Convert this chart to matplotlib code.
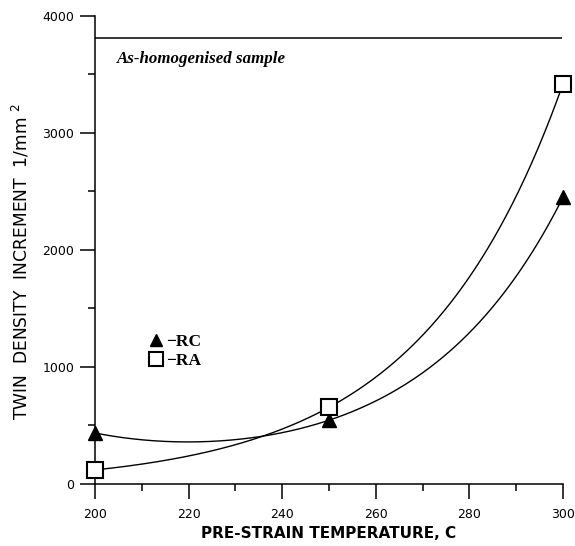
import numpy as np
import matplotlib
matplotlib.use("Agg")
import matplotlib.pyplot as plt
from matplotlib.ticker import MultipleLocator

# data
temp = [200, 250, 300]
rc = [436, 545, 2450]
ra = [120, 655, 3420]
homogenised = 3810

t = np.array(temp, dtype=float) - temp[0]
tt = np.linspace(0, t[-1], 300)

# RA: y = a + b*exp(k t) through the 3 points
r = (ra[2] - ra[1]) / (ra[1] - ra[0])
k = np.log(r) / (t[1] - t[0])
b_ra = (ra[1] - ra[0]) / (np.exp(k * t[1]) - 1)
a_ra = ra[0] - b_ra
fit_ra = a_ra + b_ra * np.exp(k * tt)

# RC: y = a + b*exp(k t) + c*exp(-k t), same k
M = np.column_stack([np.ones(3), np.exp(k * t), np.exp(-k * t)])
a_rc, b_rc, c_rc = np.linalg.solve(M, np.array(rc, dtype=float))
fit_rc = a_rc + b_rc * np.exp(k * tt) + c_rc * np.exp(-k * tt)

fig = plt.figure(figsize=(5.75, 5.46), dpi=100)
ax = fig.add_axes([0.1652, 0.1136, 0.8139, 0.8571])

ax.plot(tt + temp[0], fit_rc, color="black", lw=1.0)
ax.plot(tt + temp[0], fit_ra, color="black", lw=1.0)
ax.plot(temp, rc, ls="none", marker="^", ms=10, color="black",
        label="\u2212RC", clip_on=False, zorder=5)
ax.plot(temp, ra, ls="none", marker="s", ms=11, mfc="white",
        mec="black", mew=1.5, label="\u2212RA", clip_on=False, zorder=5)
ax.hlines(homogenised, 200, 299.8, color="black", lw=1.1)

ax.text(204.6, 3595, "As-homogenised sample", fontsize=12.2,
        family="Liberation Serif", style="italic", weight="bold")

leg = ax.legend(loc="center left", bbox_to_anchor=(0.093, 0.283),
                frameon=False, handlelength=1.0, handletextpad=0.1,
                labelspacing=0.2, borderpad=0,
                prop={"family": "Liberation Serif", "weight": "bold", "size": 12.5})
leg.legend_handles[0].set_markersize(9)
leg.legend_handles[1].set_markersize(10)

ax.set_xlim(200, 300)
ax.set_ylim(0, 4000)
ax.xaxis.set_major_locator(MultipleLocator(20))
ax.xaxis.set_minor_locator(MultipleLocator(10))
ax.yaxis.set_major_locator(MultipleLocator(1000))
ax.yaxis.set_minor_locator(MultipleLocator(500))
ax.tick_params(which="major", length=11, width=1.1, labelsize=9)
ax.tick_params(which="minor", length=5, width=1.1)
ax.tick_params(axis="x", which="major", pad=6)
ax.tick_params(axis="y", which="major", pad=4)

for s in ["top", "right"]:
    ax.spines[s].set_visible(False)
for s in ["left", "bottom"]:
    ax.spines[s].set_linewidth(1.1)

ax.set_xlabel("PRE-STRAIN TEMPERATURE, C", fontsize=11, weight="bold", labelpad=4)
ax.set_ylabel("TWIN  DENSITY  INCREMENT  1/mm $^{2}$", fontsize=12.3, labelpad=8)
ax.yaxis.set_label_coords(-0.135, 0.475)

fig.savefig("out.png", dpi=100)
